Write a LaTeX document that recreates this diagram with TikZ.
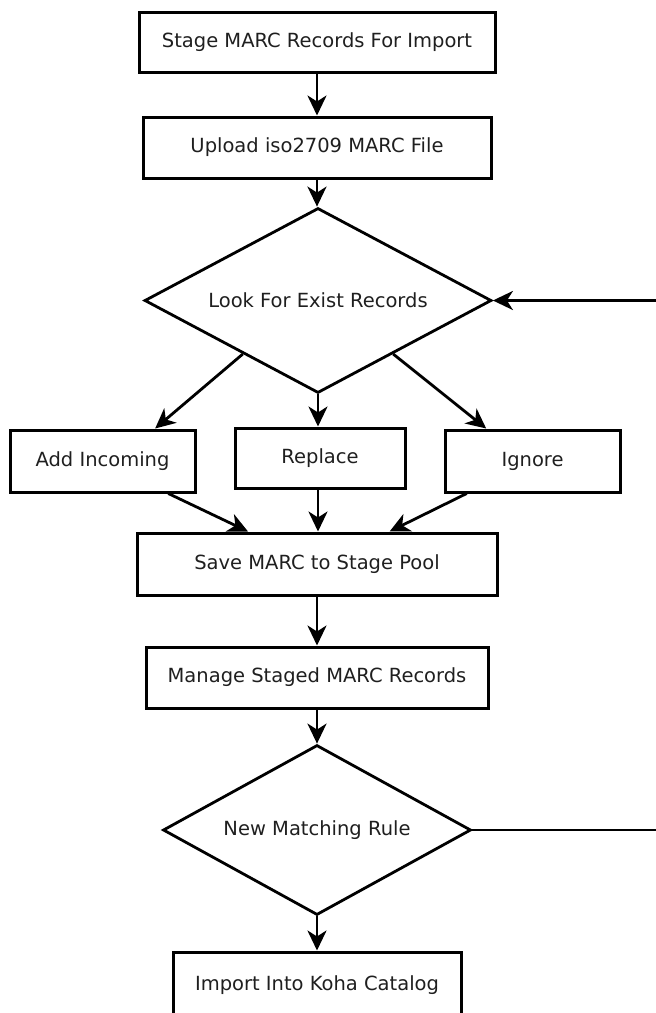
\documentclass[tikz,border=0pt]{standalone}
\usepackage{fontspec}
\setmainfont{DejaVu Sans}
\usetikzlibrary{arrows.meta,shapes.geometric,calc}
\begin{document}
\begin{tikzpicture}[x=1pt,y=-1pt,
  box/.style={draw, line width=3pt, inner sep=0pt, font=\fontsize{19.5}{23}\selectfont, text=black!88},
  dia/.style={draw, diamond, line width=2.8pt, inner sep=0pt, aspect=1.8, font=\fontsize{19.5}{23}\selectfont, text=black!88},
  conn/.style={line width=2.8pt, -{Stealth[length=20pt,width=19pt,inset=6pt]}}]
\useasboundingbox (0,0) rectangle (656,1013);
\clip (0,0) rectangle (656,1013);
\node[box, minimum width=356pt, minimum height=60pt] (s1) at (317,42) {Stage MARC Records For Import};
\node[box, minimum width=348pt, minimum height=61pt] (s2) at (317,147.5) {Upload iso2709 MARC File};
\node[dia, minimum width=347pt, minimum height=185pt] (look) at (318,300.5) {Look For Exist Records};
\node[box, minimum width=185pt, minimum height=62pt] (add) at (102.5,461) {Add Incoming};
\node[box, minimum width=170pt, minimum height=60pt] (rep) at (320,458) {Replace};
\node[box, minimum width=175pt, minimum height=62pt] (ign) at (532.5,461) {Ignore};
\node[box, minimum width=360pt, minimum height=62pt] (save) at (317,564) {Save MARC to Stage Pool};
\node[box, minimum width=342pt, minimum height=61pt] (man) at (317,677.5) {Manage Staged MARC Records};
\node[dia, minimum width=308pt, minimum height=170pt] (rule) at (317,830) {New Matching Rule};
\node[box, minimum width=288pt, minimum height=66pt] (imp) at (317,985) {Import Into Koha Catalog};
\coordinate (loopR) at (700,830);

\draw[conn] (s1.south) -- (s1.south |- s2.north);
\draw[conn] (s2.south) -- (s2.south |- look.north);
\draw[conn] ($(look.west)!0.57!(look.south)$) -- ($(add.north west)!0.78!(add.north east)$);
\draw[conn] (look.south) -- (look.south |- rep.north);
\draw[conn] ($(look.east)!0.57!(look.south)$) -- ($(ign.north west)!0.24!(ign.north east)$);
\draw[conn] ($(add.south west)!0.85!(add.south east)$) -- ($(save.north west)!0.31!(save.north east)$);
\draw[conn] (rep.south -| look.south) -- (save.north -| look.south);
\draw[conn] ($(ign.south west)!0.13!(ign.south east)$) -- ($(save.north west)!0.70!(save.north east)$);
\draw[conn] (save) -- (man);
\draw[conn] (man.south) -- (man.south |- rule.north);
\draw[conn] (rule.south) -- (imp.north);
\draw[conn] (rule.east) -- (loopR) |- (look.east);
\end{tikzpicture}
\end{document}
